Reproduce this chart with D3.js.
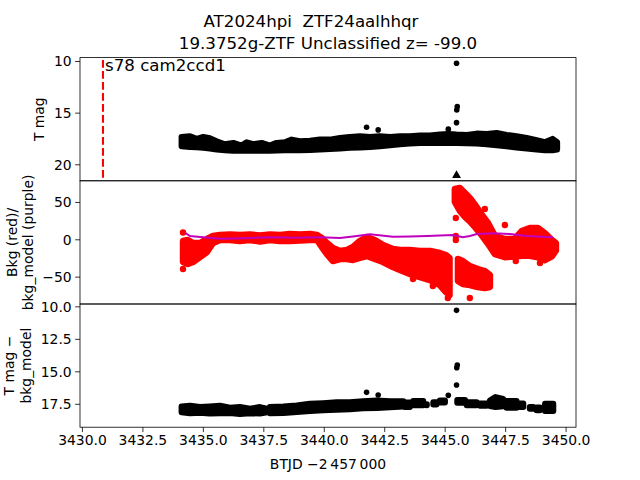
<!DOCTYPE html>
<html><head><meta charset="utf-8">
<script src="https://cdn.jsdelivr.net/npm/d3@7"></script>
<style>body{margin:0;background:#fff} text{font-family:"DejaVu Sans",sans-serif;fill:#000;white-space:pre}</style>
</head><body><svg id="c" width="640" height="480"></svg>
<script>
// ---------- data ----------
const titleLines = ["AT2024hpi  ZTF24aalhhqr", "19.3752g-ZTF Unclassified z= -99.0"];
const sectorLabel = "s78 cam2ccd1";
const sectorStart = 3430.87;
const xTicks = [3430.0, 3432.5, 3435.0, 3437.5, 3440.0, 3442.5, 3445.0, 3447.5, 3450.0];
const magTicks = [10, 15, 20];
const bkgTicks = [-50, 0, 50];
const diffTicks = [10.0, 12.5, 15.0, 17.5];

// T mag: dense band [BTJD, upper mag, lower mag]
const magBand = [
 [3434.12,17.35,18.25],[3434.47,17.29,18.32],[3434.74,17.54,18.35],[3435.02,17.35,18.41],
 [3435.29,17.48,18.48],[3435.57,17.77,18.58],[3435.91,18.06,18.64],[3436.26,17.93,18.70],
 [3436.60,18.19,18.70],[3436.81,17.87,18.70],[3437.08,18.06,18.70],[3437.43,17.93,18.70],
 [3437.77,18.19,18.70],[3438.05,17.93,18.67],[3438.39,17.87,18.64],[3438.67,17.61,18.64],
 [3439.01,17.77,18.64],[3439.43,17.71,18.61],[3439.84,17.61,18.58],[3440.25,17.61,18.51],
 [3440.67,17.45,18.48],[3441.08,17.35,18.41],[3441.50,17.29,18.38],[3441.91,17.35,18.32],
 [3442.32,17.29,18.25],[3442.74,17.35,18.16],[3443.15,17.29,18.06],[3443.56,17.29,18.00],
 [3443.98,17.22,17.93],[3444.39,17.22,17.93],[3444.80,17.12,17.93],[3445.15,17.06,17.93],
 [3445.49,17.12,17.93],[3445.91,17.16,17.96],[3446.32,17.03,18.00],[3446.73,17.06,18.06],
 [3447.15,16.96,18.16],[3447.56,17.16,18.25],[3447.97,17.29,18.38],[3448.39,17.45,18.48],
 [3448.80,17.67,18.58],[3449.14,17.87,18.64],[3449.46,17.54,18.64],[3449.65,17.87,18.58]
];
const magPoints = [[3441.77,16.41],[3442.25,16.67],[3445.15,16.60],[3445.49,10.22],[3445.52,14.42],[3445.50,14.74],[3445.49,15.97]];
const magLimits = [[3445.49,21.07]];

// Background (red) clouds [BTJD, upper, lower]
const bkgMain = [
 [3434.18,-2.3,-30.4],[3434.38,-0.9,-33.1],[3434.59,-5.0,-30.4],[3434.88,-5.0,-23.7],
 [3435.17,0.4,-17.0],[3435.42,4.4,-5.0],[3435.71,5.8,-0.9],[3436.12,6.4,-0.9],
 [3436.53,5.8,-2.3],[3436.95,6.4,-0.9],[3437.36,5.1,-2.9],[3437.77,6.4,-0.9],
 [3438.19,5.8,-2.3],[3438.60,7.1,-2.3],[3439.01,6.4,-1.6],[3439.43,7.1,-0.9],
 [3439.72,5.8,-0.9],[3439.92,1.7,-10.3],[3440.13,-5.0,-19.7],[3440.38,-11.7,-29.1],
 [3440.67,-15.7,-26.4],[3440.96,-14.3,-26.4],[3441.21,-10.3,-27.7],[3441.49,-2.3,-25.0],
 [3441.78,3.1,-22.4],[3442.11,-0.9,-26.4],[3442.45,-7.6,-30.4],[3442.86,-13.0,-37.1],
 [3443.15,-14.3,-41.1],[3443.56,-14.3,-46.5],[3443.98,-15.7,-50.5],[3444.39,-15.7,-54.5],
 [3444.80,-18.4,-61.2],[3445.05,-21.1,-70.6],[3445.20,-25.1,-74.6]
];
const bkgFlare = [
 [3445.42,67.4,50.0],[3445.63,68.7,38.0],[3445.84,62.0,30.0],[3446.04,55.3,24.0],
 [3446.29,44.6,15.0],[3446.54,32.5,5.0],[3446.79,21.8,-6.0],[3447.08,4.4,-20.0],
 [3447.49,0.4,-24.0],[3447.90,0.4,-23.0],[3448.19,11.1,-22.0],[3448.52,15.1,-22.0],
 [3448.85,15.1,-24.0],[3449.14,8.4,-28.0],[3449.43,-0.9,-23.0],[3449.60,-5.0,-15.0]
];
const bkgLow = [
 [3445.55,-26.4,-55.8],[3445.75,-29.1,-59.8],[3446.04,-35.8,-61.2],
 [3446.37,-39.8,-63.9],[3446.66,-42.5,-65.2],[3446.87,-47.9,-63.9]
];
const bkgPoints = [[3434.18,9.1],[3434.18,-39.8],[3445.46,28.5],[3445.46,4.4],[3445.46,-0.9],
 [3446.04,-78.6],[3445.13,-78.6],[3443.69,-53.2],[3444.51,-62.5],[3447.49,19.2],
 [3446.66,40.6],[3447.94,-29.1],[3448.94,-31.7]];
const bkgModel = [[3434.26,8.8],[3434.47,4.4],[3435.00,2.7],[3435.71,0.8],[3436.74,1.5],
 [3437.77,2.7],[3438.81,2.2],[3439.84,2.7],[3440.67,1.7],[3441.29,4.0],[3441.91,6.7],
 [3442.86,3.5],[3443.56,3.8],[3444.27,4.4],[3444.80,5.0],[3445.34,5.8],[3445.75,2.7],
 [3446.04,4.5],[3446.33,7.1],[3446.99,8.0],[3447.70,7.1],[3448.40,4.4],[3449.48,2.7]];

// T mag - bkg_model: clumps [BTJD, upper, lower]
const diffClumps = [
 [[3434.12,17.70,18.15],[3434.47,17.65,18.22],[3434.88,17.75,18.18],[3435.29,17.70,18.25],
  [3435.71,17.65,18.22],[3436.12,17.80,18.20],[3436.53,17.75,18.28],[3436.95,17.88,18.22],
  [3437.36,17.75,18.25],[3437.60,17.85,18.18]],
 [[3437.77,17.75,18.22],[3438.33,17.70,18.20],[3438.88,17.62,18.14],[3439.43,17.50,18.06],
  [3439.98,17.45,18.00],[3440.53,17.38,17.95],[3441.08,17.38,17.92],[3441.63,17.30,17.85],
  [3442.19,17.25,17.82],[3442.74,17.30,17.76],[3443.29,17.30,17.70]],
 [[3443.36,17.40,17.75],[3443.56,17.40,17.75]],
 [[3443.70,17.28,17.62],[3444.11,17.28,17.62]],
 [[3444.25,17.54,17.62],[3444.26,17.54,17.62]],
 [[3444.53,17.38,17.55],[3444.66,17.38,17.55]],
 [[3444.80,17.24,17.40],[3445.01,17.24,17.40]],
 [[3445.52,17.20,17.42],[3445.84,17.20,17.42]],
 [[3445.91,17.38,17.62],[3446.32,17.38,17.62]],
 [[3446.46,17.48,17.65],[3446.73,17.48,17.65]],
 [[3446.87,17.25,17.68],[3447.10,16.98,17.75],[3447.42,17.12,17.68]],
 [[3447.56,17.28,17.80],[3447.97,17.28,17.80]],
 [[3448.11,17.48,17.75],[3448.25,17.48,17.75]],
 [[3448.52,17.75,17.88],[3448.66,17.75,17.88]],
 [[3448.80,17.78,18.00],[3448.94,17.78,18.00]],
 [[3449.15,17.50,18.05],[3449.49,17.50,18.05]]
];
const diffPoints = [[3441.77,16.62],[3442.25,16.82],[3445.15,16.85],[3445.49,10.31],[3445.52,14.52],[3445.50,14.72],[3445.49,16.05]];

// ---------- layout ----------
const svg = d3.select("#c");
const L = 80, R = 576;
const panels = [[57.6,180.8],[180.8,304],[304,427.2]];
const x = d3.scaleLinear().domain([3429.92, 3450.43]).range([L, R]);
const y1 = d3.scaleLinear().domain([9.67, 21.6]).range([panels[0][0], panels[0][1]]);
const y2 = d3.scaleLinear().domain([78.3, -86.6]).range([panels[1][0], panels[1][1]]);
const y3 = d3.scaleLinear().domain([9.82, 19.3]).range([panels[2][0], panels[2][1]]);

function band(rows, y, color, w) {
  const area = d3.area().x(d => x(d[0])).y0(d => y(d[2])).y1(d => y(d[1]));
  svg.append("path").attr("d", area(rows)).attr("fill", color).attr("stroke", color)
    .attr("stroke-width", w).attr("stroke-linejoin", "round").attr("stroke-linecap", "round");
}
function dots(pts, y, color, r) {
  svg.append("g").selectAll("circle").data(pts).join("circle")
    .attr("cx", d => x(d[0])).attr("cy", d => y(d[1])).attr("r", r).attr("fill", color);
}
function yAxis(y, ticks, fmt) {
  const g = svg.append("g").attr("transform", `translate(${L},0)`)
    .call(d3.axisLeft(y).tickValues(ticks).tickFormat(fmt).tickSize(4.86).tickPadding(3.5));
  g.select(".domain").remove();
  g.selectAll("line").attr("stroke", "#000").attr("stroke-width", 0.8);
  g.selectAll("text").attr("font-size", 13.9).attr("font-family", "DejaVu Sans").attr("dy", "0.35em");
}
const minus = s => s.replace("-", "\u2212");

// Panel 1
svg.append("line").attr("x1", x(sectorStart)).attr("x2", x(sectorStart))
  .attr("y1", y1(9.9)).attr("y2", y1(21.6)).attr("stroke", "#ff0000").attr("stroke-width", 2.1)
  .attr("stroke-dasharray", "7.7,3.3");
band(magBand, y1, "#000", 6);
dots(magPoints, y1, "#000", 2.8);
svg.append("g").selectAll("path").data(magLimits).join("path")
  .attr("d", d3.symbol().type(d3.symbolTriangle).size(34))
  .attr("transform", d => `translate(${x(d[0])},${y1(d[1])})`).attr("fill", "#000");
svg.append("text").attr("x", x(sectorStart) + 2).attr("y", 71).attr("font-size", 16.67).text(sectorLabel);

// Panel 2
band(bkgMain, y2, "#ff0000", 6.5);
band(bkgFlare, y2, "#ff0000", 6.5);
band(bkgLow, y2, "#ff0000", 6.5);
dots(bkgPoints, y2, "#ff0000", 3.2);
svg.append("path").attr("d", d3.line().x(d => x(d[0])).y(d => y2(d[1]))(bkgModel))
  .attr("fill", "none").attr("stroke", "#bf00bf").attr("stroke-width", 2);

// Panel 3
diffClumps.forEach(c => band(c, y3, "#000", 6));
dots(diffPoints, y3, "#000", 2.8);

// frames
panels.forEach(p => {
  svg.append("rect").attr("x", L).attr("y", p[0]).attr("width", R - L).attr("height", p[1] - p[0])
    .attr("fill", "none").attr("stroke", "#000").attr("stroke-width", 0.8);
});

yAxis(y1, magTicks, d => String(d));
yAxis(y2, bkgTicks, d => minus(String(d)));
yAxis(y3, diffTicks, d => d.toFixed(1));

const gx = svg.append("g").attr("transform", `translate(0,${panels[2][1]})`)
  .call(d3.axisBottom(x).tickValues(xTicks).tickFormat(d => d.toFixed(1)).tickSize(4.86).tickPadding(3.5));
gx.select(".domain").remove();
gx.selectAll("line").attr("stroke", "#000").attr("stroke-width", 0.8);
gx.selectAll("text").attr("font-size", 13.9).attr("font-family", "DejaVu Sans");

// labels
svg.append("text").attr("x", 328).attr("y", 469).attr("text-anchor", "middle").attr("font-size", 13.9)
  .text("BTJD \u22122\u2009457\u2009000");
function ylab(lines, cy, xs) {
  lines.forEach((t, i) => svg.append("text").attr("transform", `translate(${xs[i]},${cy}) rotate(-90)`)
    .attr("text-anchor", "middle").attr("font-size", 13.9).text(t));
}
ylab(["T mag"], 119.2, [43.5]);
ylab(["Bkg (red)/", "bkg_model (purple)"], 242.4, [16.5, 32.5]);
ylab(["T mag \u2212", "bkg_model"], 365.6, [14, 30.5]);

svg.append("text").attr("x", 311).attr("y", 27).attr("text-anchor", "middle").attr("font-size", 16.67).text(titleLines[0]);
svg.append("text").attr("x", 328).attr("y", 48.5).attr("text-anchor", "middle").attr("font-size", 16.67).text(titleLines[1]);
</script>
</body></html>
